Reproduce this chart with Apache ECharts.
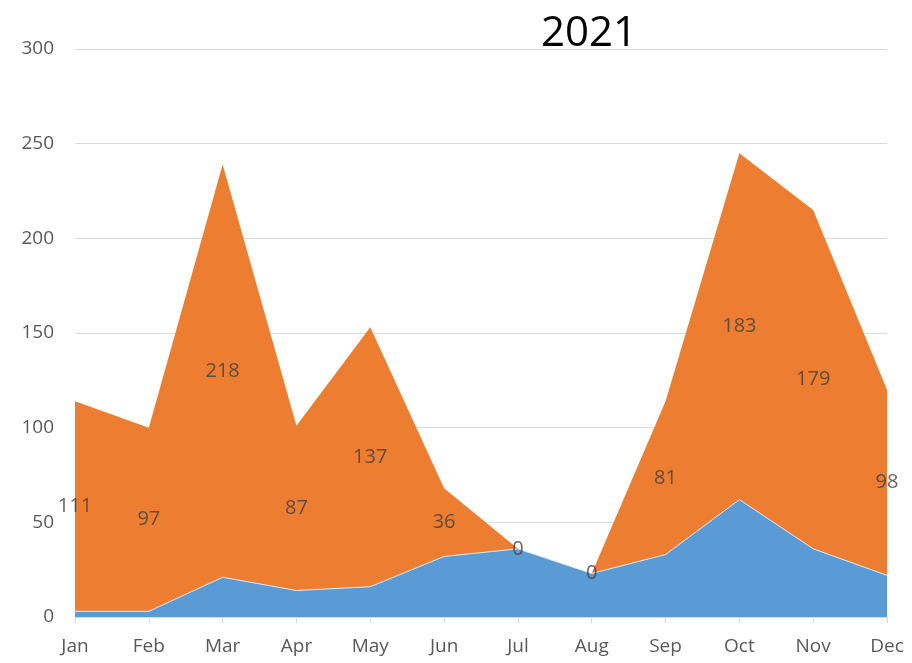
<!DOCTYPE html>
<html><head><meta charset="utf-8">
<script src="https://cdn.jsdelivr.net/npm/echarts@6/dist/echarts.min.js"></script>
<style>html,body{margin:0;padding:0;background:#fff}#c{width:912px;height:663px}</style>
</head><body><div id="c"></div>
<script>
var months = ['Jan','Feb','Mar','Apr','May','Jun','Jul','Aug','Sep','Oct','Nov','Dec'];
var blueValues = [3, 3, 21, 14, 16, 32, 36, 23, 33, 62, 36, 22];
var orangeValues = [111, 97, 218, 87, 137, 36, 0, 0, 81, 183, 179, 98];
var yTicks = [0, 50, 100, 150, 200, 250, 300];

var labelPts = months.map(function(m, i){ return [i, blueValues[i] + orangeValues[i] / 2, orangeValues[i]]; });
var font = 'Open Sans';
var chart = echarts.init(document.getElementById('c'));
chart.setOption({
  animation: false,
  title: { text: '2021', left: 584, top: 8, textAlign: 'center',
    textStyle: { fontFamily: font, fontSize: 42, fontWeight: 'normal', color: '#000' } },
  grid: { left: 75, right: 25, top: 49, bottom: 46 },
  xAxis: { type: 'category', data: months, boundaryGap: false,
    axisLine: { lineStyle: { color: '#d9d9d9', width: 1 } },
    axisTick: { show: true, length: 6, lineStyle: { color: '#d9d9d9' } },
    axisLabel: { color: '#595959', fontFamily: font, fontSize: 19, margin: 20 },
    splitLine: { show: false } },
  yAxis: { type: 'value', min: yTicks[0], max: yTicks[yTicks.length-1], interval: 50,
    axisLine: { show: false }, axisTick: { show: false },
    axisLabel: { color: '#595959', fontFamily: font, fontSize: 19, margin: 21 },
    splitLine: { lineStyle: { color: '#d9d9d9', width: 1 } } },
  series: [
    { type: 'line', stack: 't', data: blueValues, symbol: 'none',
      lineStyle: { width: 1, color: '#dde8f3' }, areaStyle: { color: '#5B9BD5', opacity: 1 } },
    { type: 'line', stack: 't', data: orangeValues, symbol: 'none',
      lineStyle: { width: 0 }, areaStyle: { color: '#ED7D31', opacity: 1 } },
    { type: 'scatter', data: labelPts, symbolSize: 0, z: 10,
      label: { show: true, position: 'inside', color: '#404040', fontFamily: font, fontSize: 20,
        formatter: function(p){ return p.data[2]; } } }
  ]
});
</script></body></html>
